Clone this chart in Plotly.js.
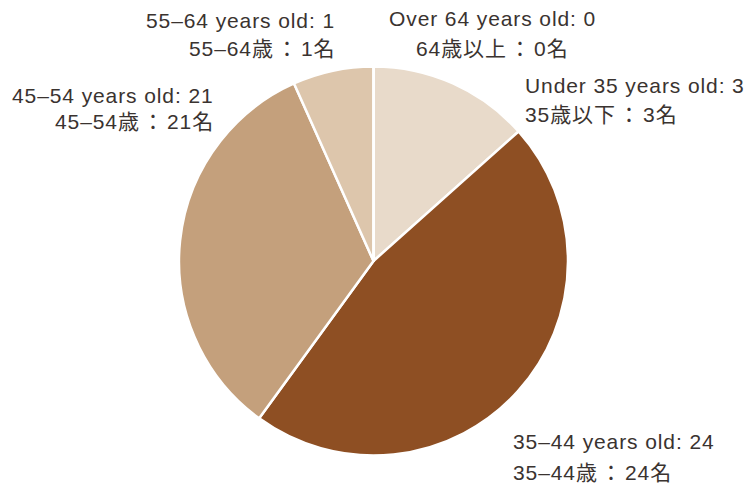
<!DOCTYPE html>
<html>
<head>
<meta charset="utf-8">
<script src="https://cdn.plot.ly/plotly-3.0.1.min.js"></script>
<style>
  html, body { margin: 0; padding: 0; background: #fff; }
  #chart { width: 752px; height: 486px; }
  text.annotation-text { letter-spacing: 0.9px; }
</style>
</head>
<body>
<div id="chart"></div>
<script>
// ---- data ----
const categoriesEn = ["Under 35 years old", "35\u201344 years old", "45\u201354 years old", "55\u201364 years old", "Over 64 years old"];
const categoriesJa = ["35歳以下", "35\u201344歳", "45\u201354歳", "55\u201364歳", "64歳以上"];
const counts = [3, 24, 21, 1, 0];
// slice shares (%) as drawn in the reference picture
const shares = [13.4, 46.6, 33.3, 6.7, 0];
const sliceColors = ["#E8DACA", "#8E4F23", "#C4A07C", "#DDC6AC", "#F0E6DA"];

// ---- label placement (pixels in the 752x486 canvas) ----
const W = 752, H = 486;
const labelPos = [
  { x: 523, y1: 86,  y2: 115, anchor: "left" },   // Under 35
  { x: 511, y1: 441, y2: 472, anchor: "left" },   // 35-44
  { x: 216, y1: 95,  y2: 121, anchor: "right" },  // 45-54
  { x: 337, y1: 20,  y2: 48,  anchor: "right" },  // 55-64
  { x: 492, y1: 19,  y2: 48,  anchor: "center" }  // Over 64
];

const textFont = { family: "Liberation Sans, Arial, 'Noto Sans CJK JP', sans-serif", size: 21, color: "#3a3330" };

const annotations = [];
categoriesEn.forEach((c, i) => {
  const p = labelPos[i];
  annotations.push({
    xref: "paper", yref: "paper", x: p.x / W, y: 1 - p.y1 / H,
    xanchor: p.anchor, align: p.anchor, yanchor: "middle", showarrow: false,
    text: c + ": " + counts[i], font: textFont
  });
  annotations.push({
    xref: "paper", yref: "paper", x: p.x / W, y: 1 - p.y2 / H,
    xanchor: p.anchor, align: p.anchor, yanchor: "middle", showarrow: false,
    text: categoriesJa[i] + "\u200A：\u200A" + counts[i] + "名", font: textFont
  });
});

const cx = 373.5, cy = 261, r = 194.5;
const trace = {
  type: "pie",
  values: shares,
  labels: categoriesEn,
  sort: false,
  direction: "clockwise",
  rotation: 0,
  textinfo: "none",
  hoverinfo: "none",
  marker: { colors: sliceColors, line: { color: "#ffffff", width: 2.5 } },
  domain: { x: [(cx - r) / W, (cx + r) / W], y: [1 - (cy + r) / H, 1 - (cy - r) / H] },
  showlegend: false
};

const layout = {
  width: W, height: H,
  margin: { l: 0, r: 0, t: 0, b: 0 },
  paper_bgcolor: "#ffffff",
  showlegend: false,
  annotations: annotations
};

Plotly.newPlot("chart", [trace], layout, { staticPlot: true, displayModeBar: false });
</script>
</body>
</html>
